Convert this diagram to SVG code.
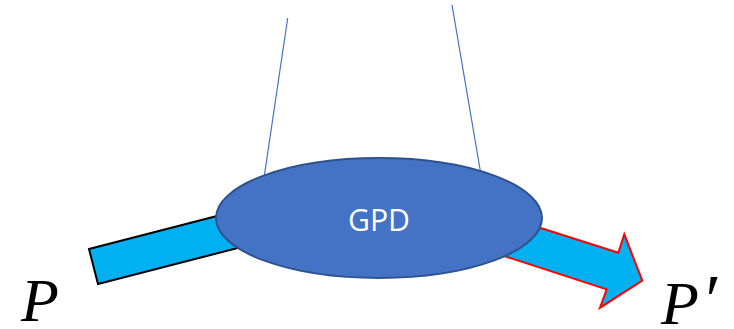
<svg xmlns="http://www.w3.org/2000/svg" width="734" height="329" viewBox="0 0 734 329">
<style>
.bar{fill:#00B0F0;stroke-width:2;stroke-linejoin:miter}
.line{stroke:#4472C4;stroke-width:1.2;fill:none}
.lbl{font-family:"Liberation Serif",serif;font-style:italic;font-size:62px;fill:#000}
</style>
<rect width="734" height="329" fill="#fff"/>
<g id="connectors">
<line class="line" x1="287.7" y1="18" x2="264.3" y2="176"/>
<line class="line" x1="452" y1="5" x2="480.7" y2="173"/>
</g>
<g id="incoming">
<polygon class="bar" stroke="#000" points="89,249 98,284 258,242.8 249,207.8"/>
</g>
<g id="outgoing">
<polygon class="bar" stroke="#FF0000" points="480,208.7 618.3,252.7 624.3,234.3 642.3,280.7 600,307.7 606.7,289.3 470,245"/>
</g>
<g id="gpd">
<ellipse cx="379" cy="218" rx="163" ry="60" fill="#4472C4" stroke="#2F528F" stroke-width="2"/>
<text x="379" y="231" text-anchor="middle" font-family="'Open Sans',sans-serif" font-size="31" fill="#fff" textLength="62" lengthAdjust="spacingAndGlyphs">GPD</text>
</g>
<g id="labelP">
<text class="lbl" x="21" y="321">P</text>
</g>
<g id="labelP2">
<text class="lbl" x="661" y="324">P<tspan font-size="72" dx="2">′</tspan></text>
</g>
</svg>
